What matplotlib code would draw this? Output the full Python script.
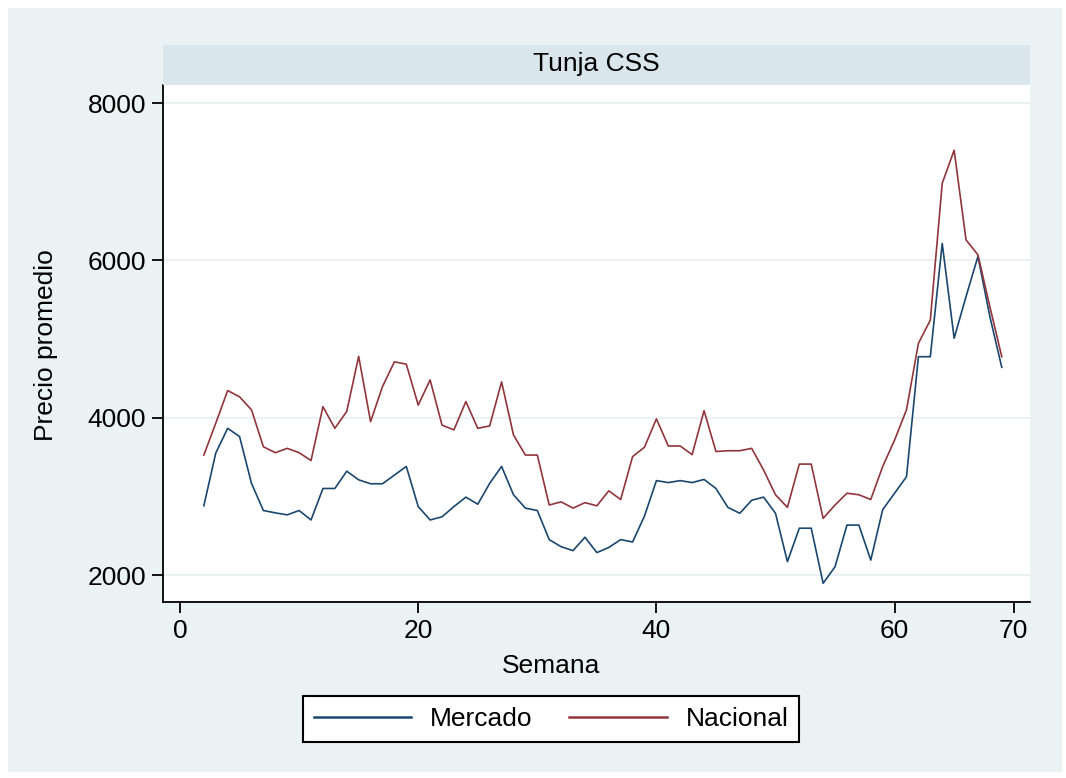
import matplotlib
matplotlib.use("Agg")
import matplotlib.pyplot as plt
from matplotlib.patches import Rectangle

plt.rcParams['font.family'] = ['Liberation Sans', 'DejaVu Sans']

semana = list(range(2, 70))
mercado = [2880, 3550, 3865, 3760, 3165, 2820, 2790, 2765, 2820, 2700,
           3100, 3100, 3320, 3210, 3160, 3160, 3270, 3380, 2870, 2700,
           2740, 2870, 2990, 2900, 3165, 3380, 3020, 2850, 2820, 2450,
           2360, 2310, 2480, 2285, 2350, 2450, 2420, 2750, 3200, 3175,
           3200, 3175, 3215, 3100, 2860, 2785, 2950, 2990, 2785, 2170,
           2595, 2595, 1895, 2105, 2635, 2635, 2190, 2830, 3040, 3250,
           4775, 4775, 6215, 5010, 5540, 6050, 5285, 4640]
nacional = [3525, 3930, 4345, 4265, 4100, 3630, 3555, 3610, 3555, 3455,
            4140, 3865, 4080, 4780, 3950, 4395, 4710, 4680, 4160, 4480,
            3905, 3845, 4205, 3865, 3895, 4455, 3780, 3525, 3525, 2890,
            2930, 2850, 2920, 2880, 3070, 2960, 3505, 3625, 3985, 3640,
            3640, 3530, 4090, 3570, 3580, 3580, 3610, 3335, 3020, 2860,
            3410, 3410, 2720, 2890, 3040, 3020, 2960, 3380, 3715, 4100,
            4945, 5240, 6980, 7400, 6260, 6070, 5410, 4775]
series_names = ['Mercado', 'Nacional']
panel_title = 'Tunja CSS'

W, H = 1066, 778
bg = '#eaf2f3'
strip = '#d9e6eb'
navy = '#1a476f'
maroon = '#90353b'
fs = 19

fig = plt.figure(figsize=(W / 100, H / 100), dpi=100, facecolor='white')
fig.patches.append(Rectangle((8 / W, 6 / H), 1054 / W, 764 / H,
                             transform=fig.transFigure, facecolor=bg,
                             edgecolor='none', zorder=-10))

ax = fig.add_axes([163 / W, 1 - 602 / H, 867 / W, 517 / H])
ax.set_facecolor('white')
# title strip
fig.patches.append(Rectangle((163 / W, 1 - 85 / H), 867 / W, 40 / H,
                             transform=fig.transFigure, facecolor=strip,
                             edgecolor='none'))
fig.text((163 + 1030) / 2 / W, 1 - 64 / H, panel_title, ha='center',
         va='center', fontsize=fs)

l1, = ax.plot(semana, mercado, color=navy, lw=1.2)
l2, = ax.plot(semana, nacional, color=maroon, lw=1.2)

ax.set_xlim(-1.43, 71.37)
ax.set_ylim(1657, 8229)
ax.set_xticks([0, 20, 40, 60, 70])
ax.set_yticks([2000, 4000, 6000, 8000])
ax.grid(axis='y', color=bg, lw=1.5)
ax.set_axisbelow(True)
for s in ['top', 'right']:
    ax.spines[s].set_visible(False)
for s in ['left', 'bottom']:
    ax.spines[s].set_linewidth(1.3)
    ax.spines[s].set_color('black')
ax.tick_params(direction='out', length=8, width=1.3, labelsize=fs, pad=4)

fig.text(551 / W, 1 - 666 / H, 'Semana', ha='center', va='center', fontsize=fs)
fig.text(46 / W, 1 - 345 / H, 'Precio promedio', ha='center', va='center',
         rotation=90, fontsize=fs)

leg = fig.legend([l1, l2], series_names, loc='center',
                 bbox_to_anchor=(551 / W, 1 - 719 / H), ncol=2,
                 fontsize=fs, frameon=True, fancybox=False, framealpha=1,
                 handlelength=3.7, columnspacing=1.4, handletextpad=0.7,
                 borderpad=0.4)
leg.get_frame().set_edgecolor('black')
leg.get_frame().set_facecolor('white')
leg.get_frame().set_linewidth(1.5)
for ln in leg.get_lines():
    ln.set_linewidth(1.8)

fig.savefig('out.png', dpi=100, facecolor='white')
